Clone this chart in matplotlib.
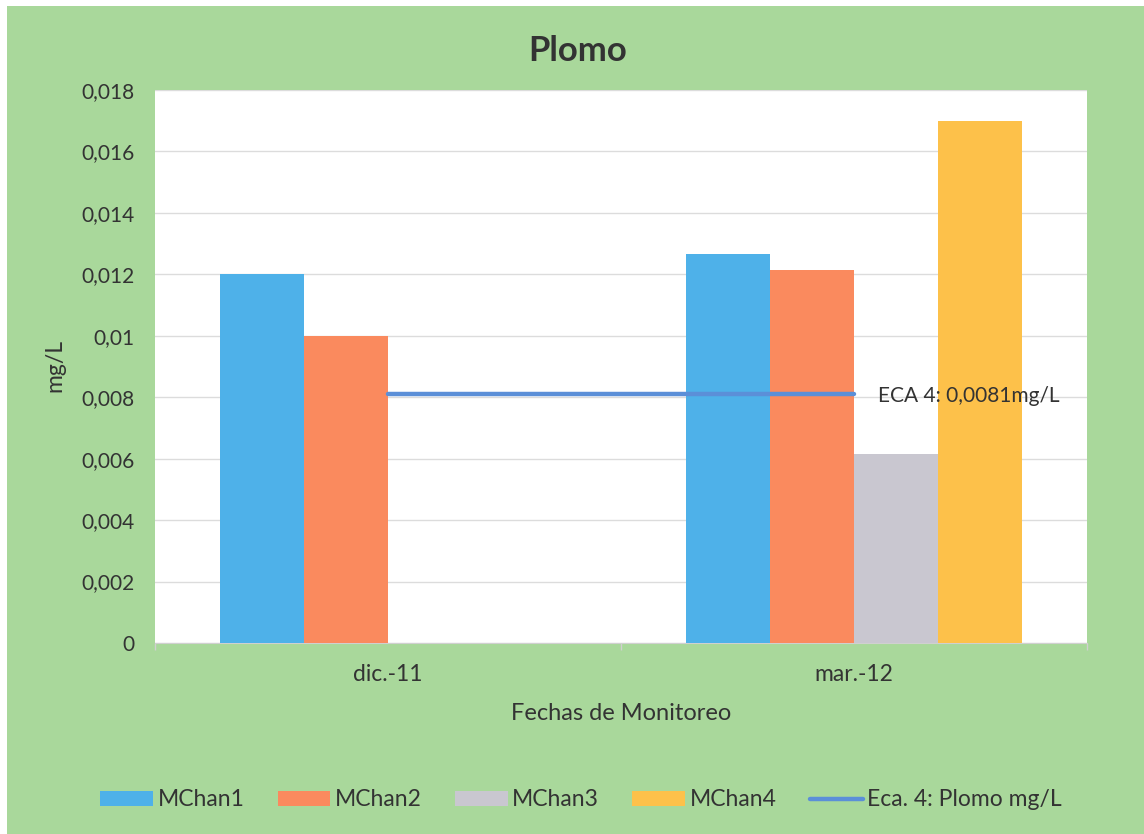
import numpy as np
import matplotlib
matplotlib.use("Agg")
import matplotlib.pyplot as plt
from matplotlib.patches import Rectangle
from matplotlib.ticker import FuncFormatter, FixedLocator

plt.rcParams['font.family'] = ['Lato', 'DejaVu Sans']

# data
fechas = ["dic.-11", "mar.-12"]
mchan1 = [0.0120, 0.01265]
mchan2 = [0.0100, 0.01215]
mchan3 = [np.nan, 0.00615]
mchan4 = [np.nan, 0.0170]
eca4 = [0.0081, 0.0081]
series_names = ["MChan1", "MChan2", "MChan3", "MChan4"]
eca_name = "Eca. 4: Plomo mg/L"
eca_label = "ECA 4: 0,0081mg/L"

colors = ["#4eb1e9", "#fa8a5e", "#c9c7d0", "#fdc14a"]
line_color = "#5b8fd8"
green = "#a9d89b"
txt = "#333333"

fig = plt.figure(figsize=(11.44, 8.34), dpi=100, facecolor="white")
fig.patches.append(Rectangle((7 / 1144, 0), 1, 828 / 834, transform=fig.transFigure,
                             facecolor=green, edgecolor="none", zorder=-10))

ax = fig.add_axes([155 / 1144, 1 - 643 / 834, 932 / 1144, 553 / 834])
ax.set_facecolor("white")

x = np.arange(len(fechas))
w = 0.18
offs = [-1.5 * w, -0.5 * w, 0.5 * w, 1.5 * w]
bars = []
for vals, off, c, name in zip([mchan1, mchan2, mchan3, mchan4], offs, colors, series_names):
    b = ax.bar(x + off, vals, w, color=c, label=name, zorder=3)
    bars.append(b)

ln, = ax.plot(x, eca4, color=line_color, lw=3.2, solid_capstyle="round", zorder=4, label=eca_name)
ax.annotate(eca_label, (x[-1], eca4[-1]), xytext=(17, -1), textcoords="offset points",
            ha="left", va="center", fontsize=15, color=txt, zorder=5)

ax.set_xlim(-0.5, len(fechas) - 0.5)
ax.set_ylim(0, 0.018)
ax.set_yticks(np.arange(0, 0.0181, 0.002))
ax.yaxis.set_major_formatter(FuncFormatter(lambda v, p: ("%g" % round(v, 4)).replace(".", ",")))
ax.grid(axis="y", color="#dcdcdc", lw=1, zorder=0)
ax.set_axisbelow(True)

ax.set_xticks(x)
ax.set_xticklabels(fechas)
ax.xaxis.set_minor_locator(FixedLocator(np.arange(-0.5, len(fechas), 1.0)))
ax.tick_params(axis="x", which="major", length=0, pad=15, labelsize=16.5, labelcolor=txt)
ax.tick_params(axis="x", which="minor", length=5, width=1, color="#d0d0d0", direction="out")
ax.tick_params(axis="y", length=0, pad=15, labelsize=15, labelcolor=txt)

for s in ["top", "right", "left"]:
    ax.spines[s].set_visible(False)
ax.spines["bottom"].set_color("#d0d0d0")

fig.text(578 / 1144, 1 - 51 / 834, "Plomo", ha="center", va="center",
         fontsize=25, fontweight="bold", color=txt)
fig.text(621 / 1144, 1 - 714 / 834, "Fechas de Monitoreo", ha="center", va="center",
         fontsize=17, color=txt)
fig.text(55 / 1144, 1 - 366 / 834, "mg/L", ha="center", va="center", rotation=90,
         fontsize=16.5, color=txt)

fig.legend(handles=bars + [ln], labels=series_names + [eca_name], loc="center",
           bbox_to_anchor=(581 / 1144, 1 - 800 / 834), ncol=5, frameon=False,
           fontsize=16.5, handlelength=2.3, handleheight=0.6, handletextpad=0.2,
           columnspacing=1.45, labelcolor=txt)

fig.savefig("out.png", dpi=100, facecolor=fig.get_facecolor())
